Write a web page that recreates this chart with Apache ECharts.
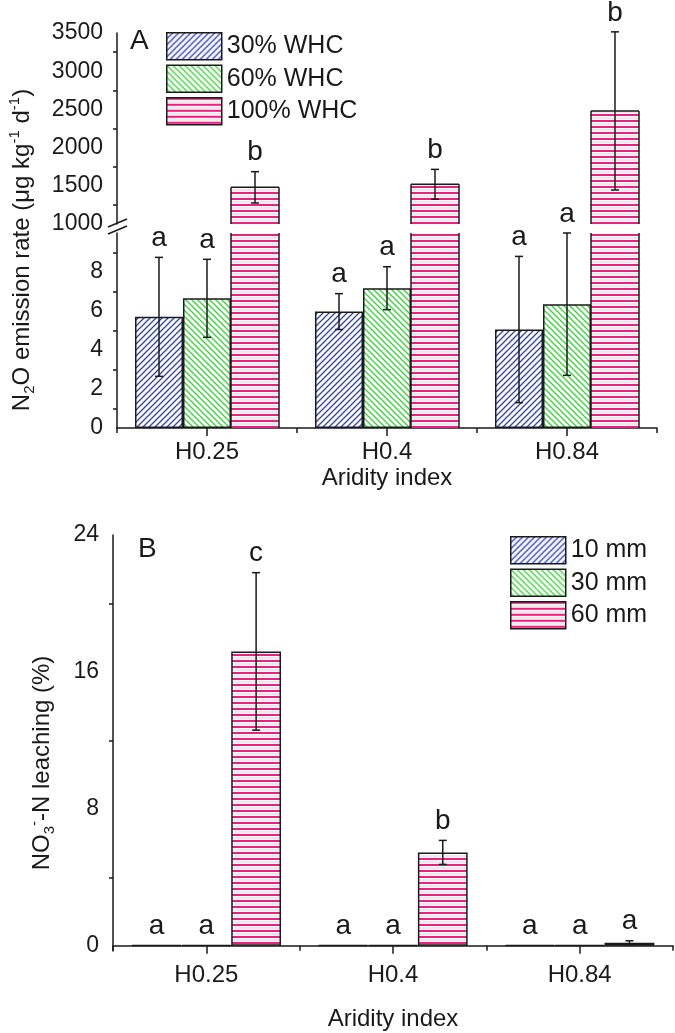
<!DOCTYPE html>
<html>
<head>
<meta charset="utf-8">
<script src="https://cdn.jsdelivr.net/npm/echarts@6/dist/echarts.min.js"></script>
<style>html,body{margin:0;padding:0;background:#fff}#main{width:675px;height:1033px}</style>
</head>
<body>
<div id="main"></div>
<script>
var categories = ['H0.25', 'H0.4', 'H0.84'];

// panel A - N2O emission rate
var whcNames = ['30% WHC', '60% WHC', '100% WHC'];
var n2o30 = [5.7, 5.97, 5.05];
var n2o30Err = [3.05, 0.92, 3.75];
var n2o60 = [6.65, 7.17, 6.35];
var n2o60Err = [2.0, 1.1, 3.65];
var n2o100 = [1480, 1520, 2480];
var n2o100Err = [205, 195, 1035];
var n2oLetters30 = ['a', 'a', 'a'];
var n2oLetters60 = ['a', 'a', 'a'];
var n2oLetters100 = ['b', 'b', 'b'];

// panel B - NO3-N leaching
var rainNames = ['10 mm', '30 mm', '60 mm'];
var leach10 = [0.05, 0.05, 0.05];
var leach30 = [0.05, 0.05, 0.05];
var leach60 = [17.2, 5.46, 0.18];
var leach60Err = [4.6, 0.7, 0.12];
var leachLetters10 = ['a', 'a', 'a'];
var leachLetters30 = ['a', 'a', 'a'];
var leachLetters60 = ['c', 'b', 'a'];

var upperTicks = [1000, 3500, 500];
var lowerTicks = [0, 2, 4, 6, 8];
var lowerMinor = [1, 3, 5, 7, 9];
var bTicks = [0, 8, 16, 24];
var bMinor = [4, 12, 20];

var FONT = 'Liberation Sans, Arial, sans-serif';
var INK = '#1a1a1a';

function stripes(color, dir) {
  var s = 6, c = document.createElement('canvas');
  c.width = s; c.height = s;
  var g = c.getContext('2d');
  g.fillStyle = '#fff';
  g.fillRect(0, 0, s, s);
  if (dir === '-') {
    g.fillStyle = color;
    g.fillRect(0, 0, s, 2);
    g.fillStyle = '#f7c3da';
    g.fillRect(0, 3.5, s, 1);
  } else {
    g.strokeStyle = color;
    g.lineWidth = 1.3;
    g.beginPath();
    for (var o = -s; o <= s; o += s) {
      if (dir === '/') { g.moveTo(o - 1, s + 1); g.lineTo(o + s + 1, -1); }
      else { g.moveTo(o - 1, -1); g.lineTo(o + s + 1, s + 1); }
    }
    g.stroke();
  }
  return {image: c, repeat: 'repeat'};
}
var blueFill = stripes('#2c3cc8', '/');
var greenFill = stripes('#3ccf3c', '\\');
var pinkFill = stripes('#e6247f', '-');

function pack(vals, errs, k) {
  return vals.map(function (v, i) { return [i, v, errs ? errs[i] : 0, k]; });
}

// error bars + significance letters
function errRender(letters) {
  return function (params, api) {
    var cat = api.value(0), v = api.value(1), e = api.value(2), k = api.value(3);
    var bw = api.size([1, 0])[0] * 0.8 / 3;
    var x = api.coord([cat, v])[0] + (k - 1) * bw;
    var yHi = api.coord([cat, v + e])[1];
    var yLo = api.coord([cat, v - e])[1];
    var ln = {stroke: INK, lineWidth: 1.5};
    var ch = [];
    if (e > 0) {
      ch.push({type: 'line', shape: {x1: x, y1: yHi, x2: x, y2: yLo}, style: ln});
      ch.push({type: 'line', shape: {x1: x - 4, y1: yHi, x2: x + 4, y2: yHi}, style: ln});
      ch.push({type: 'line', shape: {x1: x - 4, y1: yLo, x2: x + 4, y2: yLo}, style: ln});
    }
    ch.push({type: 'text', x: x, y: yHi - 19, style: {
      text: letters[params.dataIndex], fill: INK, font: '28px ' + FONT,
      align: 'center', verticalAlign: 'middle'}});
    return {type: 'group', children: ch};
  };
}

// outline for the broken pink bars (no edge drawn at the break)
function outlineRender(params, api) {
  var cat = api.value(0), v = api.value(1), k = api.value(3);
  var cs = params.coordSys;
  var bw = api.size([1, 0])[0] * 0.8 / 3;
  var x = api.coord([cat, v])[0] + (k - 1) * bw;
  var yv = api.coord([cat, v])[1], y0 = api.coord([cat, 0])[1];
  var top = cs.y, bot = cs.y + cs.height;
  var yt = Math.max(yv, top), yb = Math.min(y0, bot);
  var l = x - bw / 2, r = x + bw / 2;
  var ln = {stroke: INK, lineWidth: 1.5};
  var ch = [
    {type: 'line', shape: {x1: l, y1: yt, x2: l, y2: yb}, style: ln},
    {type: 'line', shape: {x1: r, y1: yt, x2: r, y2: yb}, style: ln}
  ];
  if (yv >= top) ch.push({type: 'line', shape: {x1: l, y1: yt, x2: r, y2: yt}, style: ln});
  return {type: 'group', children: ch};
}

function bar(name, data, fill, xi, yi, border) {
  return {
    name: name, type: 'bar', xAxisIndex: xi, yAxisIndex: yi, data: data,
    barGap: '0%', barCategoryGap: '20%',
    itemStyle: {color: fill, borderColor: INK, borderWidth: border === false ? 0 : 1.5}
  };
}
function custom(render, data, xi, yi) {
  return {type: 'custom', xAxisIndex: xi, yAxisIndex: yi, renderItem: render, data: data, z: 5, silent: true};
}

var lbl = {color: INK, fontSize: 23, fontFamily: FONT, margin: 14, formatter: function (v) { return String(v); }};
var axLine = {show: true, lineStyle: {color: INK, width: 1.5}};

function catAxis(gi, show, name, gap) {
  return {
    type: 'category', gridIndex: gi, data: categories, position: 'bottom',
    axisLine: show ? axLine : {show: false},
    axisTick: {show: show, alignWithLabel: true, length: 8, lineStyle: {color: INK, width: 1.5}},
    axisLabel: show ? {color: INK, fontSize: 24, fontFamily: FONT, margin: 12} : {show: false},
    name: name, nameLocation: 'middle', nameGap: gap,
    nameTextStyle: {color: INK, fontSize: 24, fontFamily: FONT}
  };
}
function boundAxis(gi) {
  return {
    type: 'category', gridIndex: gi, data: categories, position: 'bottom',
    axisLine: {show: false}, axisLabel: {show: false},
    axisTick: {show: true, length: 5, lineStyle: {color: INK, width: 1.5}}
  };
}
function minorAxis(gi, min, max, vals) {
  return {
    type: 'value', gridIndex: gi, position: 'left', min: min, max: max,
    axisLine: {show: false}, axisLabel: {show: false}, splitLine: {show: false},
    axisTick: {show: true, length: 4, customValues: vals, lineStyle: {color: INK, width: 1.5}}
  };
}
function legend(names, left, top) {
  return {data: names, orient: 'vertical', left: left, top: top, icon: 'rect',
    itemWidth: 55, itemHeight: 27, itemGap: 4, selectedMode: false,
    itemStyle: {borderColor: INK, borderWidth: 1.5},
    textStyle: {color: INK, fontSize: 25, fontFamily: FONT}};
}
var richY = {
  m: {fontSize: 24, fontFamily: FONT, lineHeight: 30, verticalAlign: 'middle', fill: INK},
  s: {fontSize: 15, fontFamily: FONT, lineHeight: 15, verticalAlign: 'bottom', fill: INK},
  p: {fontSize: 15, fontFamily: FONT, lineHeight: 15, verticalAlign: 'top', fill: INK}
};

var chart = echarts.init(document.getElementById('main'));

var option = {
  backgroundColor: '#fff',
  animation: false,
  grid: [
    {left: 117, width: 540, top: 33, height: 191},
    {left: 117, width: 540, top: 233, height: 195},
    {left: 113, width: 560, top: 535, height: 416}
  ],
  xAxis: [
    catAxis(0, false),
    catAxis(1, true, 'Aridity index', 38),
    boundAxis(1),
    catAxis(2, true, 'Aridity index', 56),
    boundAxis(2)
  ],
  yAxis: [
    {type: 'value', gridIndex: 0, min: upperTicks[0], max: upperTicks[1], interval: upperTicks[2],
      axisLine: axLine, splitLine: {show: false}, axisLabel: lbl,
      axisTick: {length: 8, lineStyle: {color: INK, width: 1.5}},
      minorTick: {show: true, splitNumber: 2, length: 4, lineStyle: {color: INK, width: 1.5}}},
    {type: 'value', gridIndex: 1, min: 0, max: 10,
      axisLine: axLine, splitLine: {show: false},
      axisLabel: Object.assign({customValues: lowerTicks}, lbl),
      axisTick: {length: 8, customValues: lowerTicks, lineStyle: {color: INK, width: 1.5}}},
    minorAxis(1, 0, 10, lowerMinor),
    {type: 'value', gridIndex: 2, min: -0.3, max: 24,
      axisLine: axLine, splitLine: {show: false},
      axisLabel: Object.assign({customValues: bTicks}, lbl),
      axisTick: {length: 8, customValues: bTicks, lineStyle: {color: INK, width: 1.5}}},
    minorAxis(2, -0.3, 24, bMinor)
  ],
  legend: [legend(whcNames, 161, 27), legend(rainNames, 505, 531)],
  graphic: [
    {type: 'text', left: 130, top: 27, style: {text: 'A', fill: INK, font: '28px ' + FONT}},
    {type: 'text', left: 138, top: 535, style: {text: 'B', fill: INK, font: '28px ' + FONT}},
    {type: 'line', shape: {x1: 108, y1: 227, x2: 127, y2: 219}, style: {stroke: INK, lineWidth: 1.5}},
    {type: 'line', shape: {x1: 108, y1: 234, x2: 127, y2: 226}, style: {stroke: INK, lineWidth: 1.5}},
    {type: 'text', x: 22, y: 250, rotation: Math.PI / 2, style: {
      text: '{m|N}{s|2}{m|O emission rate (μg kg}{p|-1}{m| d}{p|-1}{m|)}',
      align: 'center', verticalAlign: 'middle', fill: INK, rich: richY}},
    {type: 'text', x: 42, y: 763, rotation: Math.PI / 2, style: {
      text: '{m|NO}{s|3}{p|-}{m|-N leaching (%)}',
      align: 'center', verticalAlign: 'middle', fill: INK, rich: richY}}
  ],
  series: [
    // upper part of the broken axis
    bar('30% WHC', ['-', '-', '-'], blueFill, 0, 0),
    bar('60% WHC', ['-', '-', '-'], greenFill, 0, 0),
    bar('100% WHC', n2o100, pinkFill, 0, 0, false),
    custom(outlineRender, pack(n2o100, n2o100Err, 2), 0, 0),
    custom(errRender(n2oLetters100), pack(n2o100, n2o100Err, 2), 0, 0),
    // lower part
    bar('30% WHC', n2o30, blueFill, 1, 1),
    bar('60% WHC', n2o60, greenFill, 1, 1),
    bar('100% WHC', n2o100, pinkFill, 1, 1, false),
    custom(outlineRender, pack(n2o100, n2o100Err, 2), 1, 1),
    custom(errRender(n2oLetters30), pack(n2o30, n2o30Err, 0), 1, 1),
    custom(errRender(n2oLetters60), pack(n2o60, n2o60Err, 1), 1, 1),
    // panel B
    bar('10 mm', leach10, blueFill, 3, 3),
    bar('30 mm', leach30, greenFill, 3, 3),
    bar('60 mm', leach60, pinkFill, 3, 3),
    custom(errRender(leachLetters10), pack(leach10, null, 0), 3, 3),
    custom(errRender(leachLetters30), pack(leach30, null, 1), 3, 3),
    custom(errRender(leachLetters60), pack(leach60, leach60Err, 2), 3, 3)
  ]
};
chart.setOption(option);
</script>
</body>
</html>
